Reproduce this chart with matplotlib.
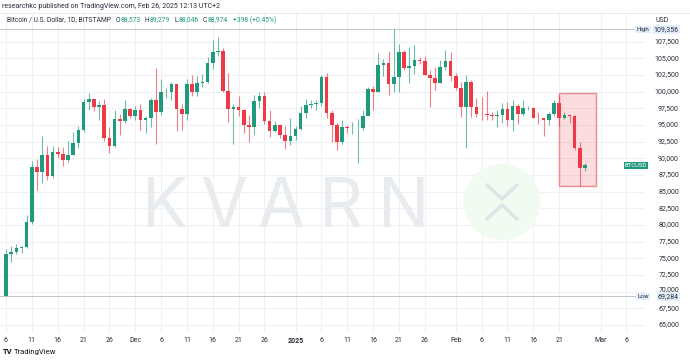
import numpy as np
import pandas as pd
import matplotlib
matplotlib.use("Agg")
import matplotlib.pyplot as plt
from matplotlib.patches import Rectangle, Circle
from matplotlib.transforms import blended_transform_factory

plt.rcParams['font.family'] = ['Roboto', 'DejaVu Sans']

# daily BTCUSD candles, Bitstamp, 6 Nov 2024 .. 26 Feb 2025
start = "2024-11-06"
opens = [69370, 75620, 75900, 76500, 76700, 80400, 88700, 87950, 90500, 87300,
         91000, 90600, 89800, 90500, 92300, 94300, 98400, 98900, 97700, 98000,
         93000, 91900, 95900, 95600, 97400, 96400, 97200, 95800, 96000, 98700,
         97000, 99900, 100000, 101150, 97350, 96600, 101150, 100000, 101350, 101400,
         104350, 105900, 106150, 100150, 97400, 97650, 97250, 95000, 94650, 98600,
         99350, 95600, 94100, 95000, 93500, 92650, 93350, 94350, 96850, 98000,
         98150, 98300, 102150, 96850, 95000, 92500, 94650, 94500, 94500, 94500,
         96400, 100400, 99900, 104000, 104350, 101150, 102150, 106000, 103500, 103850,
         104750, 104650, 102500, 102000, 101250, 103650, 104650, 102350, 100600, 97650,
         101400, 97650, 96700, 96600, 96500, 96400, 96500, 97350, 95800, 97850,
         96600, 97500, 97600, 96100, 96000, 95700, 96600, 98250, 96100, 96500,
         96300, 91600, 88573]
highs = [76400, 76900, 77200, 76800, 81500, 89600, 89900, 93300, 91800, 91800,
         91700, 91700, 92600, 94000, 94900, 98900, 99800, 98900, 98600, 98900,
         94700, 97250, 96600, 98700, 97500, 97800, 98100, 96300, 99000, 103550,
         101900, 100500, 101400, 101200, 98200, 101900, 102500, 102400, 102600, 105200,
         107800, 108250, 106500, 102800, 98200, 99350, 97400, 96500, 99500, 99900,
         99900, 97300, 95600, 95200, 94900, 96000, 94900, 97800, 98900, 98700,
         98800, 102500, 102750, 97200, 95300, 95800, 95000, 95400, 95900, 97300,
         100700, 100800, 105750, 104900, 106150, 109356, 107150, 106300, 106750, 107000,
         105200, 105400, 103200, 103750, 104800, 106250, 106000, 102800, 101400, 102500,
         101700, 99000, 99150, 100150, 96900, 97300, 98300, 98500, 98800, 98100,
         98750, 97900, 97700, 97000, 96000, 96900, 98750, 99500, 96900, 96600,
         96500, 92500, 89279]
lows = [69284, 74500, 75600, 75800, 76500, 80200, 85200, 86300, 86700, 87000,
        90000, 88800, 89400, 90500, 91500, 94000, 97200, 97150, 95750, 92600,
        90800, 91700, 93500, 95300, 96000, 95700, 94250, 93800, 94700, 92100,
        96500, 99000, 98700, 94100, 94200, 95700, 99300, 99300, 100700, 101300,
        103400, 105400, 100000, 95500, 92150, 96400, 93800, 92500, 93500, 97600,
        95200, 93250, 94000, 93000, 91350, 92000, 92800, 94200, 96100, 97600,
        97300, 97900, 96100, 92500, 91250, 92200, 93800, 93700, 89300, 94300,
        96500, 97300, 99900, 102300, 99500, 100000, 100000, 103300, 101250, 102700,
        104200, 102500, 97750, 100300, 101300, 103300, 101600, 100300, 96250, 91500,
        96200, 96200, 95700, 95750, 95700, 94750, 95300, 94900, 94100, 95200,
        96300, 97300, 96000, 95200, 93400, 95000, 96400, 94800, 95900, 95300,
        91200, 85900, 88046]
closes = [75620, 75900, 76500, 76700, 80400, 88700, 87950, 90500, 87300, 91000,
          90600, 89800, 90500, 92300, 94300, 98400, 98900, 97700, 98000, 93000,
          91900, 95900, 95600, 97400, 96400, 97200, 95800, 96000, 98700, 97000,
          99900, 100000, 101150, 97350, 96600, 101150, 100000, 101350, 101400, 104350,
          105900, 106150, 100150, 97400, 97650, 97250, 95000, 94650, 98600, 99350,
          95600, 94100, 95000, 93500, 92650, 93350, 94350, 96850, 98000, 98150,
          98300, 102150, 96850, 95000, 92500, 94650, 94500, 94500, 94500, 96400,
          100400, 99900, 104000, 104350, 101150, 102150, 106000, 103500, 103850, 104750,
          104650, 102500, 102000, 101250, 103650, 104650, 102350, 100600, 97650, 101400,
          97650, 96700, 96600, 96500, 96400, 96500, 97350, 95800, 97850, 96600,
          97500, 97600, 96100, 96000, 95700, 96600, 98250, 96100, 96500, 96300,
          91600, 88573, 88974]

date_ticks = ["2024-11-06", "2024-11-11", "2024-11-16", "2024-11-21", "2024-11-26",
              "2024-12-01", "2024-12-06", "2024-12-11", "2024-12-16", "2024-12-21",
              "2024-12-26", "2025-01-01", "2025-01-06", "2025-01-11", "2025-01-16",
              "2025-01-21", "2025-01-26", "2025-02-01", "2025-02-06", "2025-02-11",
              "2025-02-16", "2025-02-21", "2025-03-01", "2025-03-06"]
date_labels = ["6", "11", "16", "21", "26", "Dec", "6", "11", "16", "21", "26",
               "2025", "6", "11", "16", "21", "26", "Feb", "6", "11", "16", "21",
               "Mar", "6"]
price_ticks = list(range(65000, 110000, 2500))

high_all = 109356
low_all = 69284

# highlighted box (last days)
box_start, box_end = 107, 114.2
box_low, box_high = 85850, 99800

GREEN = '#1f9a7c'
RED = '#ee3a47'
GRID = '#eff1f4'
TEXT = '#2a2e39'
LABEL_BG = '#e3eefc'

W, H = 690, 363
fig = plt.figure(figsize=(W / 100, H / 100), dpi=100)
fig.patch.set_facecolor('white')

def fx(px):
    return px / W

def fy(py):
    return 1 - py / H

ax = fig.add_axes([0, fy(333), fx(645), (333 - 13) / H])
ax.set_facecolor('none')
for s in ax.spines.values():
    s.set_visible(False)
ax.set_xticks([])
ax.set_yticks([])
ax.set_xlim(-1.16, 123.6)
ax.set_ylim(63800, 111800)

t0 = pd.Timestamp(start)
tick_x = [(pd.Timestamp(t) - t0).days for t in date_ticks]

# grid
for xv in tick_x:
    ax.axvline(xv, color=GRID, lw=0.8, zorder=0)
for pv in price_ticks:
    ax.axhline(pv, color=GRID, lw=0.8, zorder=0)

# watermark (pixel positions)
px_tr = fig.dpi_scale_trans
def pin(px, py):
    return (px / 100, (H - py) / 100)

for ch, cx in zip("KVARN", [165, 224, 281, 341, 404]):
    ax.text(*pin(cx, 227), ch, transform=px_tr, fontsize=49, family='Inter',
            color='#e9ecee', ha='center', va='baseline', zorder=0.5)
ax.add_patch(Circle(pin(502, 202), 0.385, transform=px_tr, color='#f1fbf2',
                    zorder=0.4, lw=0))
for pts in ([(487, 185), (502, 199), (517, 185)], [(487, 219), (502, 205), (517, 219)]):
    xs = [pin(*p)[0] for p in pts]
    ys = [pin(*p)[1] for p in pts]
    ax.plot(xs, ys, transform=px_tr, color='#e0e4e6', lw=2.6, zorder=0.6,
            solid_capstyle='round')

# high / low lines
ax.axhline(high_all, color='#b9bcc4', lw=0.6, zorder=1)
ax.axhline(low_all, color='#b9bcc4', lw=0.6, zorder=1)

# box
ax.add_patch(Rectangle((box_start, box_low), box_end - box_start, box_high - box_low,
                       facecolor=(0.95, 0.21, 0.27, 0.17), edgecolor='#f08890',
                       lw=1.0, zorder=1.5))

# candles
x = np.arange(len(closes))
o = np.array(opens)
h = np.array(highs)
l = np.array(lows)
c = np.array(closes)
up = c >= o
cols = np.where(up, GREEN, RED)
ax.vlines(x, l, h, colors=cols, lw=0.8, alpha=0.65, zorder=2)
ax.bar(x, np.maximum(np.abs(c - o), 60), bottom=np.minimum(o, c), width=0.7,
       color=cols, zorder=3, lw=0)

# price axis labels
blend = blended_transform_factory(fig.transFigure, ax.transData)
for pv in price_ticks:
    yv = pv + 250 if pv == 70000 else pv
    ax.text(fx(679), yv, f"{pv:,}", transform=blend,
            fontsize=5, color=TEXT, ha='right', va='center', clip_on=False)
fig.text(fx(662), fy(20), "USD", fontsize=5, color=TEXT, ha='center', va='center')

for val, name in ((high_all, "High"), (low_all, "Low")):
    ax.text(fx(679), val, f"{val:,}", transform=blend, fontsize=5, color=TEXT,
            ha='right', va='center', zorder=5,
            bbox=dict(boxstyle='square,pad=0.15', fc=LABEL_BG, ec='none'))
    ax.text(fx(643), val, name, transform=blend, fontsize=4.5, color=TEXT,
            ha='center', va='center', zorder=5,
            bbox=dict(boxstyle='square,pad=0.2', fc=LABEL_BG, ec='none'))
ax.text(fx(636), closes[-1], "BTCUSD", transform=blend, fontsize=4.2, color='white',
        ha='center', va='center', bbox=dict(boxstyle='square,pad=0.2', fc=GREEN, ec='none'))

# date labels
dblend = blended_transform_factory(ax.transData, fig.transFigure)
for xv, lab in zip(tick_x, date_labels):
    ax.text(xv, fy(341), lab, transform=dblend, fontsize=5, color=TEXT,
            ha='center', va='center', clip_on=False,
            weight='bold' if lab == "2025" else 'normal')

# header
fig.text(fx(2), fy(6), "researchkc published on TradingView.com, Feb 26, 2025 12:13 UTC+2",
         fontsize=5, color=TEXT, ha='left', va='center')
fig.add_artist(plt.Line2D([0, 1], [fy(13), fy(13)], color='#e6e8ec', lw=0.6))

parts = [("O", TEXT, 3), ("88,573", GREEN, 0.5),
         ("H", TEXT, 3), ("89,279", GREEN, 0.5),
         ("L", TEXT, 3), ("88,046", GREEN, 0.5),
         ("C", TEXT, 3), ("88,974", GREEN, 0.5),
         ("+398 (+0.45%)", GREEN, 3.5)]
prev = fig.text(fx(7), fy(20), "Bitcoin / U.S. Dollar, 1D, BITSTAMP", fontsize=4.9,
                color=TEXT, ha='left', va='center')
for txt, col, gap in parts:
    prev = ax.annotate(txt, xy=(1, 0.5), xycoords=prev, xytext=(gap, 0),
                       textcoords='offset points', fontsize=4.9, color=col,
                       ha='left', va='center', annotation_clip=False)

# footer
fig.text(fx(3), fy(352), "TV", fontsize=5.5, weight='bold', color='#131722', ha='left', va='center')
fig.text(fx(14), fy(352), "TradingView", fontsize=5.5, color='#131722', ha='left', va='center')

fig.savefig("out.png", dpi=100)
